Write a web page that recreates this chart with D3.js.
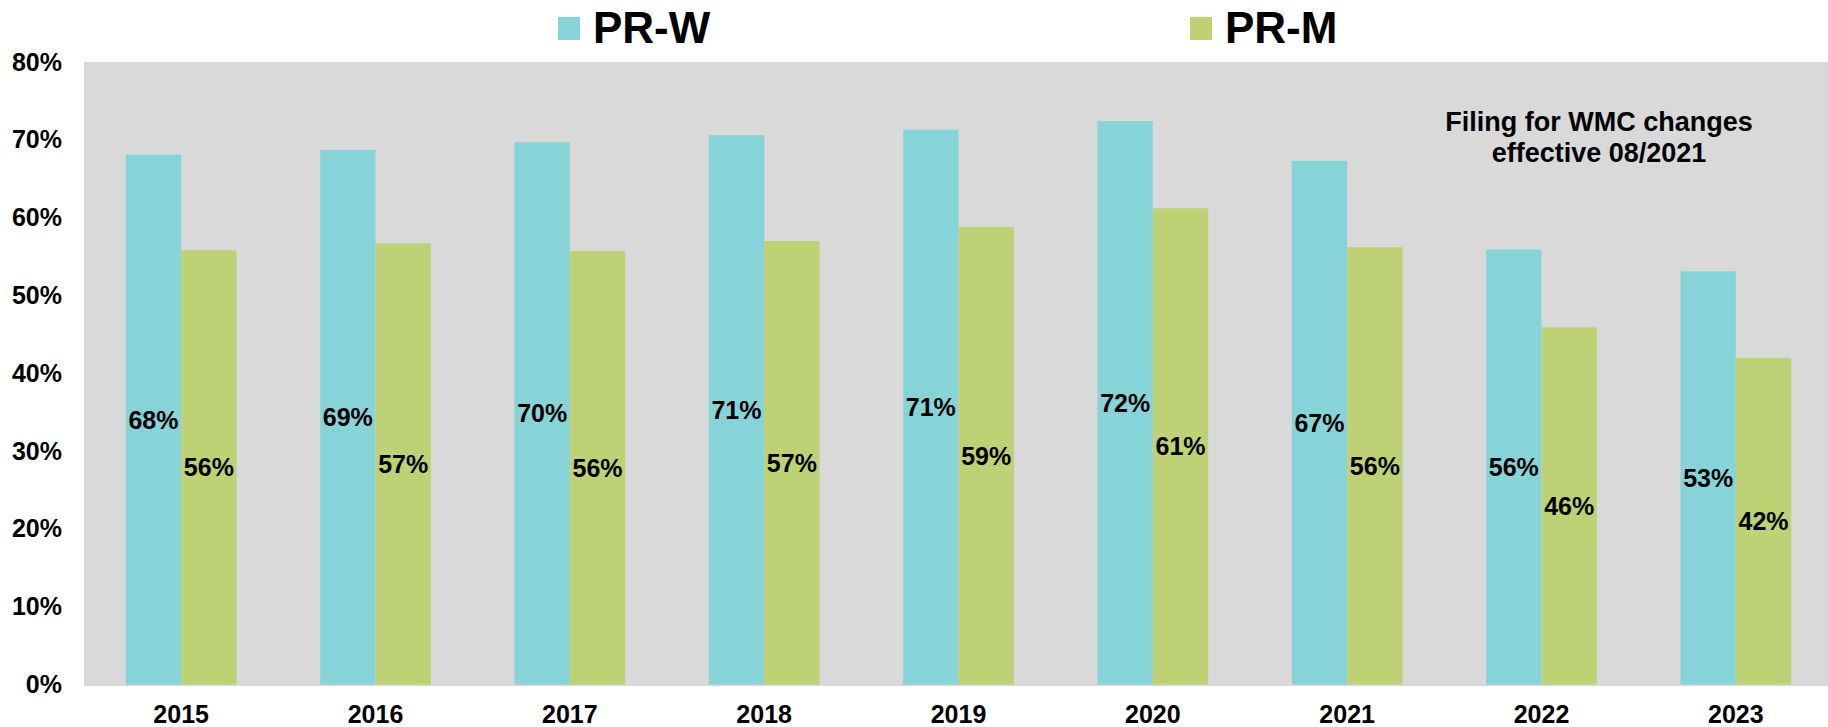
<!DOCTYPE html>
<html>
<head>
<meta charset="utf-8">
<script src="https://cdn.jsdelivr.net/npm/d3@7"></script>
<style>
  html, body { margin: 0; padding: 0; background: #ffffff; }
  svg { display: block; font-family: "Liberation Sans", Arial, sans-serif; font-weight: bold; }
</style>
</head>
<body>
<svg id="chart" width="1828" height="727"></svg>
<script>
// Share of members by year, two series
const years = ["2015", "2016", "2017", "2018", "2019", "2020", "2021", "2022", "2023"];
const prW = [0.681, 0.687, 0.697, 0.706, 0.713, 0.724, 0.673, 0.559, 0.531];
const prM = [0.558, 0.567, 0.557, 0.570, 0.588, 0.612, 0.562, 0.459, 0.420];
const seriesNames = ["PR-W", "PR-M"];
const seriesColors = ["#86d4d8", "#bed174"];
const yTicks = [0, 0.1, 0.2, 0.3, 0.4, 0.5, 0.6, 0.7, 0.8];
const noteLines = ["Filing for WMC changes", "effective 08/2021"];

const W = 1828, H = 727;
const plot = { left: 84, top: 62, bottom: 686, right: 1833 };

const svg = d3.select("#chart");

// grey plot background
svg.append("rect")
  .attr("x", plot.left).attr("y", plot.top)
  .attr("width", W - plot.left).attr("height", plot.bottom - plot.top)
  .attr("fill", "#d9d9d9");

const x = d3.scaleBand().domain(years).range([plot.left, plot.right]).padding(0);
const y = d3.scaleLinear().domain([0, 0.8]).range([684.5, plot.top]);

const barW = x.bandwidth() * 0.285;
const sub = d3.scaleBand().domain(seriesNames)
  .range([-barW, barW]).padding(0);

const rows = years.map((yr, i) => ({ year: yr, vals: [prW[i], prM[i]] }));
const fmt = d3.format(".0%");

const groups = svg.append("g").selectAll("g").data(rows).join("g")
  .attr("transform", d => `translate(${x(d.year) + x.bandwidth() / 2},0)`);

const cells = groups.selectAll("g.cell")
  .data(d => d.vals.map((v, k) => ({ v, k })))
  .join("g").attr("class", "cell");

cells.append("rect")
  .attr("x", d => sub(seriesNames[d.k]))
  .attr("width", sub.bandwidth())
  .attr("y", d => y(d.v))
  .attr("height", d => y(0) - y(d.v))
  .attr("fill", d => seriesColors[d.k]);

cells.append("text")
  .attr("x", d => sub(seriesNames[d.k]) + sub.bandwidth() / 2)
  .attr("y", d => (y(d.v) + y(0)) / 2)
  .attr("dy", "0.36em")
  .attr("text-anchor", "middle")
  .attr("font-size", 25)
  .attr("fill", "#000")
  .text(d => fmt(d.v));

// y axis
const yAxis = svg.append("g")
  .attr("transform", `translate(${plot.left},0)`)
  .call(d3.axisLeft(y).tickValues(yTicks).tickFormat(fmt).tickSize(0).tickPadding(22));
yAxis.select(".domain").remove();
yAxis.selectAll("text")
  .attr("font-size", 25).attr("font-family", "Liberation Sans, Arial, sans-serif")
  .attr("font-weight", "bold").attr("fill", "#000");

// x axis
const xAxis = svg.append("g")
  .attr("transform", `translate(0,${plot.bottom})`)
  .call(d3.axisBottom(x).tickSize(0).tickPadding(19));
xAxis.select(".domain").remove();
xAxis.selectAll("text")
  .attr("font-size", 25).attr("font-family", "Liberation Sans, Arial, sans-serif")
  .attr("font-weight", "bold").attr("fill", "#000");

// legend
const legendX = [558, 1190];
const legend = svg.append("g").selectAll("g").data(seriesNames).join("g")
  .attr("transform", (d, i) => `translate(${legendX[i]},0)`);
legend.append("rect")
  .attr("x", 0).attr("y", 17).attr("width", 22).attr("height", 23)
  .attr("fill", (d, i) => seriesColors[i]);
legend.append("text")
  .attr("x", 35).attr("y", 43)
  .attr("font-size", 44).attr("fill", "#000")
  .text(d => d);

// annotation
svg.append("text")
  .attr("x", 1599).attr("y", 130.5)
  .attr("text-anchor", "middle")
  .attr("font-size", 27).attr("fill", "#000")
  .selectAll("tspan").data(noteLines).join("tspan")
  .attr("x", 1599).attr("dy", (d, i) => i === 0 ? 0 : 31)
  .text(d => d);
</script>
</body>
</html>
